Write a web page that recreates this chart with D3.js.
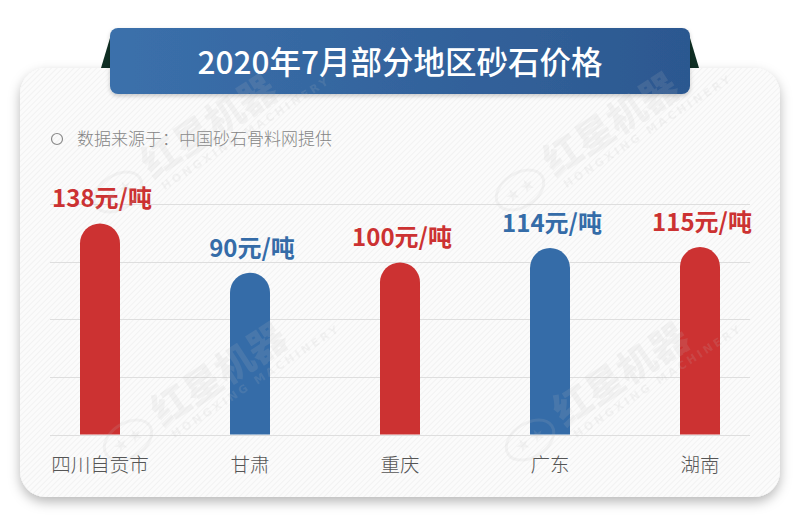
<!DOCTYPE html>
<html>
<head>
<meta charset="utf-8">
<script src="https://cdn.jsdelivr.net/npm/d3@7"></script>
<style>
  html, body { margin: 0; padding: 0; background: #ffffff; }
  svg { display: block; }
</style>
</head>
<body>
<div id="chart"></div>
<script>
// Sand & gravel prices by region, July 2020 (元/吨)
const regions = ["四川自贡市", "甘肃", "重庆", "广东", "湖南"];
const prices = [138, 90, 100, 114, 115];
const unitLabel = "元/吨";
const titleText = "2020年7月部分地区砂石价格";
const sourceText = "数据来源于：中国砂石骨料网提供";

const W = 800, H = 530;
const RED = "#cc3232", BLUE = "#356ca8";
const CJK = "'Noto Sans CJK SC', 'Noto Sans', sans-serif";

const svg = d3.select("#chart").append("svg")
  .attr("width", W).attr("height", H)
  .attr("viewBox", `0 0 ${W} ${H}`);

const defs = svg.append("defs");

// diagonal hatch texture for the card
const hatch = defs.append("pattern")
  .attr("id", "hatch").attr("patternUnits", "userSpaceOnUse")
  .attr("width", 4).attr("height", 4)
  .attr("patternTransform", "rotate(45)");
hatch.append("rect").attr("width", 4).attr("height", 4).attr("fill", "#fbfbfb");
hatch.append("line").attr("x1", 0).attr("y1", 0).attr("x2", 0).attr("y2", 4)
  .attr("stroke", "#ececec").attr("stroke-width", 1.2);

const shadow = defs.append("filter").attr("id", "shadow")
  .attr("x", "-10%").attr("y", "-10%").attr("width", "120%").attr("height", "125%");
shadow.append("feDropShadow").attr("dx", 0).attr("dy", 5).attr("stdDeviation", 6)
  .attr("flood-color", "#000").attr("flood-opacity", 0.28);

const bannerShadow = defs.append("filter").attr("id", "bannerShadow")
  .attr("x", "-5%").attr("y", "-20%").attr("width", "110%").attr("height", "150%");
bannerShadow.append("feDropShadow").attr("dx", 0).attr("dy", 2).attr("stdDeviation", 2)
  .attr("flood-color", "#000").attr("flood-opacity", 0.2);

const grad = defs.append("linearGradient").attr("id", "bannerGrad")
  .attr("x1", "0%").attr("x2", "100%").attr("y1", "0%").attr("y2", "0%");
grad.append("stop").attr("offset", "0%").attr("stop-color", "#3b70ab");
grad.append("stop").attr("offset", "100%").attr("stop-color", "#2c5890");

// ribbon folds behind the title banner
const fold = "#0f2f24";
svg.append("path").attr("d", "M101,68 L110,38 L110,68 Z").attr("fill", fold);
svg.append("path").attr("d", "M690,38 L699,68 L690,68 Z").attr("fill", fold);

// card
svg.append("rect")
  .attr("x", 20).attr("y", 68).attr("width", 760).attr("height", 429)
  .attr("rx", 26).attr("ry", 26)
  .attr("fill", "url(#hatch)")
  .attr("filter", "url(#shadow)");

// title banner
svg.append("rect")
  .attr("x", 110).attr("y", 28).attr("width", 580).attr("height", 66)
  .attr("rx", 8).attr("ry", 8)
  .attr("fill", "url(#bannerGrad)")
  .attr("filter", "url(#bannerShadow)");
svg.append("text")
  .attr("x", 400).attr("y", 74)
  .attr("text-anchor", "middle")
  .attr("font-family", CJK).attr("font-size", 31.5).attr("font-weight", 500)
  .attr("fill", "#ffffff")
  .text(titleText);

// source note
svg.append("circle").attr("cx", 57).attr("cy", 139).attr("r", 5.5)
  .attr("fill", "none").attr("stroke", "#8a8a8a").attr("stroke-width", 1.2);
svg.append("text")
  .attr("x", 77).attr("y", 145)
  .attr("font-family", CJK).attr("font-size", 17).attr("font-weight", 300)
  .attr("fill", "#858585")
  .text(sourceText);

// scales
const x = d3.scaleBand().domain(regions).range([25, 775]).padding(0);
const y = d3.scaleLinear().domain([-68, 157]).range([434.5, 204]);
const color = d3.scaleOrdinal().domain(regions).range([RED, BLUE]);
const barW = 40;

// horizontal gridlines
const [d0, d1] = y.domain();
const gridVals = d3.range(5).map(i => d0 + i * (d1 - d0) / 4);
svg.append("g").selectAll("line").data(gridVals).join("line")
  .attr("x1", 50).attr("x2", 750)
  .attr("y1", d => Math.round(y(d)) + 0.5).attr("y2", d => Math.round(y(d)) + 0.5)
  .attr("stroke", "#dedede").attr("stroke-width", 1);

const data = regions.map((r, i) => ({ region: r, value: prices[i] }));

// bars with a rounded top
function barPath(d) {
  const cx = x(d.region) + x.bandwidth() / 2;
  const x0 = cx - barW / 2, x1 = cx + barW / 2;
  const r = barW / 2;
  const top = y(d.value), base = y(d0);
  return `M${x0},${base} V${top + r} A${r},${r} 0 0 1 ${x1},${top + r} V${base} Z`;
}
svg.append("g").selectAll("path").data(data).join("path")
  .attr("d", barPath)
  .attr("fill", d => color(d.region));

// value labels
svg.append("g").selectAll("text").data(data).join("text")
  .attr("x", d => x(d.region) + x.bandwidth() / 2 + 2)
  .attr("y", d => y(d.value) - 16)
  .attr("text-anchor", "middle")
  .attr("font-family", CJK).attr("font-size", 24).attr("font-weight", 700)
  .attr("fill", d => color(d.region))
  .text(d => d.value + unitLabel);

// category axis (labels only)
const xAxis = d3.axisBottom(x).tickSize(0).tickPadding(0);
const gx = svg.append("g").attr("transform", `translate(0, 472)`).call(xAxis);
gx.select(".domain").remove();
gx.selectAll("text")
  .attr("dy", 0).attr("y", 0)
  .attr("font-family", CJK).attr("font-size", 19.5).attr("font-weight", 300)
  .attr("fill", "#555555");

// faint brand watermarks
const marks = [[118, 192], [520, 190], [128, 440], [530, 440]];
const wm = svg.append("g").attr("pointer-events", "none");
marks.forEach(([mx, my]) => {
  const g = wm.append("g").attr("transform", `translate(${mx},${my}) rotate(-33)`)
    .attr("opacity", 0.14);
  g.append("ellipse").attr("cx", 0).attr("cy", 0).attr("rx", 26).attr("ry", 17)
    .attr("fill", "none").attr("stroke", "#bdbdbd").attr("stroke-width", 3);
  g.append("text").attr("x", 0).attr("y", 5).attr("text-anchor", "middle")
    .attr("font-family", CJK).attr("font-size", 14).attr("font-weight", 700)
    .attr("fill", "#bdbdbd").text("★ ★");
  g.append("text").attr("x", 36).attr("y", 8)
    .attr("font-family", CJK).attr("font-size", 38).attr("font-weight", 900)
    .attr("fill", "#bdbdbd").text("红星机器");
  g.append("text").attr("x", 40).attr("y", 24)
    .attr("font-family", "'DejaVu Sans', sans-serif").attr("font-size", 11).attr("font-weight", 700)
    .attr("letter-spacing", 3)
    .attr("fill", "#bdbdbd").text("HONGXING MACHINERY");
});
</script>
</body>
</html>
